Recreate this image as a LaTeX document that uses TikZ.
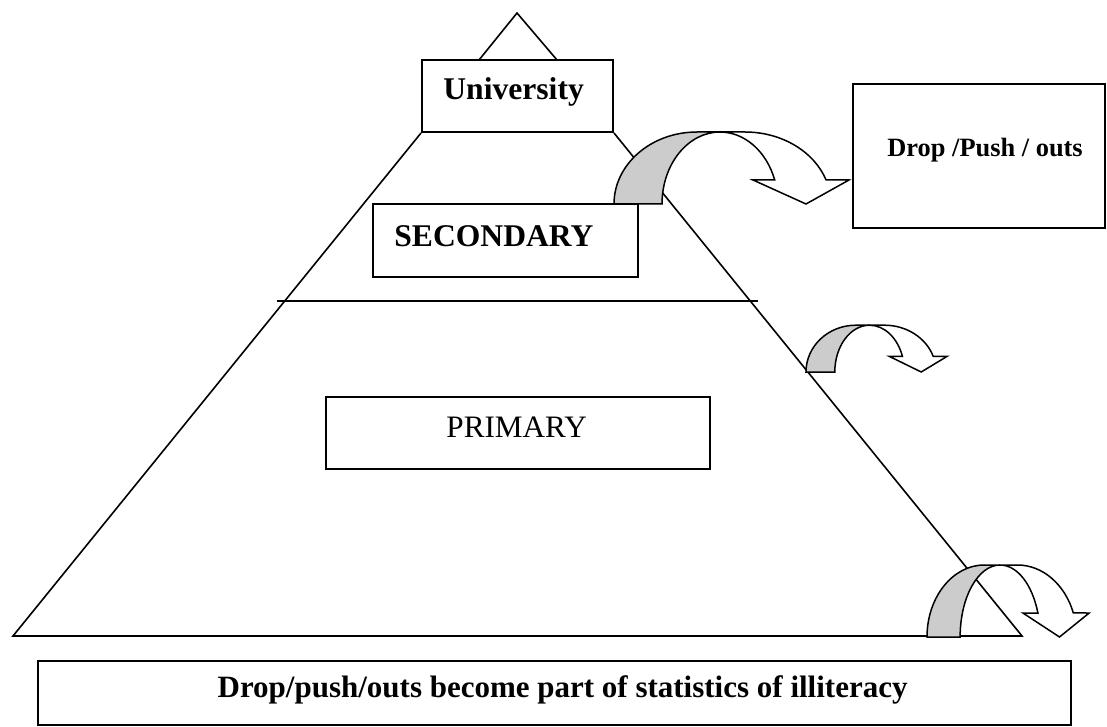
\documentclass[tikz,border=0pt]{standalone}
\usepackage{fontspec}
\setmainfont{Liberation Serif}
\usepackage{xcolor}
\usetikzlibrary{
  calc
}
\definecolor{inkC}{HTML}{000000}
\definecolor{paperC}{HTML}{FFFFFF}
\definecolor{backC}{HTML}{CCCCCC}

\tikzset{
  levelbox/.style={draw=inkC, fill=paperC, line width=1pt, inner sep=0pt},
  boldlabel/.style={anchor=base west, inner sep=0pt,
    font=\fontsize{15.8}{19}\selectfont\bfseries},
  plainlabel/.style={anchor=base west, inner sep=0pt,
    font=\fontsize{15.6}{19}\selectfont},
  droparrow/.pic={
    % back face of the curved band
    \filldraw[fill=backC, draw=inkC, line width=0.75pt]
      (0,0) arc[start angle=180, end angle=90, x radius=83, y radius=72]
      -- (106,72) arc[start angle=90, end angle=180, x radius=58, y radius=72]
      -- cycle;
    % front face with the head
    \filldraw[fill=paperC, draw=inkC, line width=0.75pt, line join=miter]
      (106,72) -- (131,72)
      arc[start angle=90, end angle=19.5, x radius=86, y radius=72]
      -- (235,24) -- (192,0) -- (139,24) -- (160.7,24)
      arc[start angle=19.5, end angle=90, x radius=58, y radius=72]
      -- cycle;
  }
}

\begin{document}
\begin{tikzpicture}[
  x=0.5pt,
  y=0.5pt,
  line cap=butt,
  line join=miter
]

\useasboundingbox (0,0) rectangle (1107,-727);

% Level boxes.
\node[levelbox, minimum width=191*0.5pt, minimum height=72*0.5pt] (uniBox) at (517.5,-96) {};
\node[levelbox, minimum width=265*0.5pt, minimum height=73*0.5pt] (secBox) at (505.5,-240.5) {};
\node[levelbox, minimum width=384*0.5pt, minimum height=72*0.5pt] (priBox) at (518,-433) {};
\node[levelbox, minimum width=252*0.5pt, minimum height=144*0.5pt] (dropBox) at (979,-156) {};
\node[levelbox, minimum width=1033*0.5pt, minimum height=64*0.5pt] (statBox) at (554.5,-693) {};

% Pyramid outline, peak and the secondary/primary divide.
\coordinate (baseL) at (13,-636);
\coordinate (baseR) at (1022,-636);
\draw[inkC, line width=0.8pt] (uniBox.south west) -- (baseL) -- (baseR) -- (uniBox.south east);
\draw[inkC, line width=0.8pt] (479,-60) -- (517,-13) -- (557,-60);
\draw[inkC, line width=0.8pt] (277,-301) -- (758,-301);

% Drop-out arrows leaving the pyramid.
\pic at (614,-204) {droparrow};
\pic[xscale=0.6, yscale=0.65] at (806,-372) {droparrow};
\pic[xscale=0.69] at (927,-637) {droparrow};

% Texts.
\node[boldlabel] (uniText) at (443,-100) {University};
\node[boldlabel] (secText) at (394,-246) {SECONDARY};
\node[plainlabel] (priText) at (446,-437) {PRIMARY};
\node[boldlabel, font=\fontsize{13.2}{16}\selectfont\bfseries] (dropText) at (887,-157) {Drop /Push / outs};
\node[boldlabel, anchor=base east, font=\fontsize{15.5}{19}\selectfont\bfseries] (statText) at (908,-697)
  {Drop/push/outs become part of statistics of illiteracy};

\end{tikzpicture}
\end{document}
